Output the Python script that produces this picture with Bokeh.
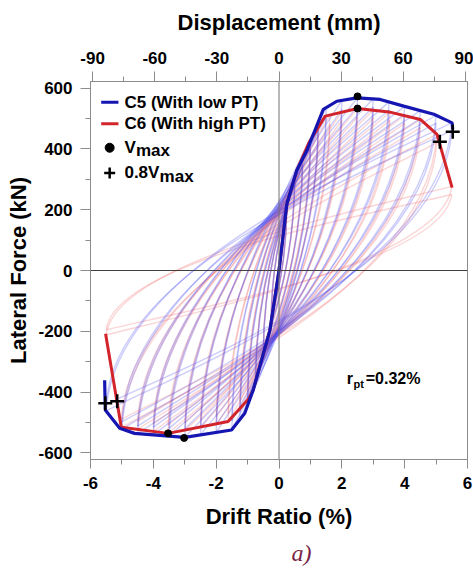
import numpy as np
from bokeh.plotting import figure
from bokeh.models import (ColumnDataSource, LinearAxis, Range1d, FixedTicker, Span, Label, Title)
from bokeh.embed import file_html
from bokeh.resources import INLINE

# ---------------- axis ticks ----------------
drift_ticks = [-6, -4, -2, 0, 2, 4, 6]
drift_minor = [-5, -3, -1, 1, 3, 5]
force_ticks = [-600, -400, -200, 0, 200, 400, 600]
force_minor = [-500, -300, -100, 100, 300, 500]
disp_ticks = [-90, -60, -30, 0, 30, 60, 90]
disp_minor = [-75, -45, -15, 15, 45, 75]

# ---------------- envelopes (drift %, force kN) ----------------
c5_env_drift = [-5.55, -5.53, -5.07, -4.6, -3.0, -1.51, -1.09, -0.82, -0.29, 0.0,
                0.25, 0.56, 0.88, 1.41, 1.84, 2.48, 3.22, 3.97, 4.93, 5.51, 5.53]
c5_env_force = [-361, -459, -519, -536, -549, -525, -470, -393, -197, 0,
                219, 328, 393, 530, 557, 568, 563, 541, 514, 486, 465]
c6_env_drift = [-5.52, -5.02, -3.53, -1.62, -1.25, -0.95, -0.82, -0.29, 0.0,
                0.25, 0.56, 0.95, 1.47, 2.5, 3.5, 4.5, 5.03, 5.51]
c6_env_force = [-208, -516, -536, -497, -455, -420, -393, -197, 0,
                219, 328, 420, 508, 533, 522, 497, 448, 273]

# ---------------- peak markers ----------------
c5_vmax_drift = [2.5, -3.02]
c5_vmax_force = [573, -551]
c6_vmax_drift = [2.5, -3.53]
c6_vmax_force = [533, -536]
c5_v80_drift = [5.53, -5.53]
c5_v80_force = [457, -437]
c6_v80_drift = [5.12, -5.15]
c6_v80_force = [424, -430]

# ---------------- hysteresis cycles (peak drift, peak forces) ----------------
c5_cycle_drift = [0.25, 0.25, 0.5, 0.5, 0.75, 0.75, 1.0, 1.0, 1.25, 1.25, 1.5, 1.5,
                  2.0, 2.0, 2.5, 2.5, 3.0, 3.0, 3.5, 3.5, 4.0, 4.0, 4.5, 4.5,
                  5.0, 5.0, 5.5, 5.5]
c5_cycle_pos_force = [219, 205, 310, 290, 367, 345, 424, 400, 489, 462, 536, 505,
                      560, 530, 568, 540, 565, 538, 555, 528, 540, 515, 526, 500,
                      511, 485, 487, 460]
c5_cycle_neg_force = [-175, -160, -275, -258, -370, -350, -445, -420, -492, -465, -524, -495,
                      -533, -508, -541, -515, -549, -522, -545, -520, -541, -516, -537, -512,
                      -522, -498, -462, -440]
c6_cycle_drift = [0.25, 0.25, 0.5, 0.5, 0.75, 0.75, 1.0, 1.0, 1.25, 1.25, 1.62, 1.62,
                  2.0, 2.0, 2.5, 2.5, 3.0, 3.0, 3.53, 3.53, 4.0, 4.0, 4.5, 4.5,
                  5.02, 5.02, 5.5, 5.5]
c6_cycle_pos_force = [210, 196, 300, 282, 370, 350, 430, 405, 472, 445, 512, 482,
                      521, 494, 533, 505, 528, 501, 521, 494, 510, 484, 497, 470,
                      449, 420, 277, 250]
c6_cycle_neg_force = [-170, -158, -270, -252, -360, -340, -420, -398, -455, -430, -497, -470,
                      -507, -482, -518, -492, -528, -502, -536, -509, -530, -504, -523, -497,
                      -516, -490, -212, -195]

# loop shape (fractions used for Bezier control points)
STEEP_DX, STEEP_DY, APPROACH_DX, APPROACH_DY = 0.05, 0.5, 0.5, 0.15


def loop_source(drift, fpos, fneg):
    d = np.array(drift, float)
    fp = np.array(fpos, float)
    fn = np.array(fneg, float)
    span = fp - fn
    # upward branch: negative peak -> positive peak
    up = dict(x0=-d, y0=fn, x1=d, y1=fp,
              cx0=-d + STEEP_DX * d, cy0=fn + STEEP_DY * span,
              cx1=d - APPROACH_DX * d, cy1=fp - APPROACH_DY * span)
    # downward branch: positive peak -> negative peak
    dn = dict(x0=d, y0=fp, x1=-d, y1=fn,
              cx0=d - STEEP_DX * d, cy0=fp - STEEP_DY * span,
              cx1=-d + APPROACH_DX * d, cy1=fn + APPROACH_DY * span)
    return ColumnDataSource({k: np.concatenate([up[k], dn[k]]) for k in up})


BLUE = "#1515b2"
RED = "#d3242b"
FONT = "Liberation Sans"

p = figure(width=473, height=573, x_range=Range1d(-6, 6), y_range=Range1d(-622, 622),
           output_backend="svg", toolbar_location=None,
           min_border_left=90, min_border_right=6, min_border_top=81, min_border_bottom=114)
p.extra_x_ranges = {"mm": Range1d(-91, 91)}
p.grid.visible = False
p.outline_line_color = "#8c8c8c"
p.background_fill_color = "white"
p.border_fill_color = "white"

# zero lines
p.add_layout(Span(location=0, dimension="height", line_color="#707070", line_width=1))
p.add_layout(Span(location=0, dimension="width", line_color="#404040", line_width=1))

# hysteresis loops
bez_kw = dict(x0="x0", y0="y0", x1="x1", y1="y1", cx0="cx0", cy0="cy0", cx1="cx1", cy1="cy1")
p.bezier(source=loop_source(c6_cycle_drift, c6_cycle_pos_force, c6_cycle_neg_force),
         line_color="#f06a6a", line_alpha=0.28, line_width=1.4, **bez_kw)
p.bezier(source=loop_source(c5_cycle_drift, c5_cycle_pos_force, c5_cycle_neg_force),
         line_color="#4a4af0", line_alpha=0.28, line_width=1.4, **bez_kw)

# envelopes
p.line(c6_env_drift, c6_env_force, line_color=RED, line_width=3)
p.line(c5_env_drift, c5_env_force, line_color=BLUE, line_width=3.2)

# markers
p.scatter(c5_vmax_drift, c5_vmax_force, marker="circle", size=7, color="black")
p.scatter(c6_vmax_drift, c6_vmax_force, marker="circle", size=7, color="black")
p.scatter(c5_v80_drift, c5_v80_force, marker="cross", size=14, line_color="black", line_width=2.5)
p.scatter(c6_v80_drift, c6_v80_force, marker="cross", size=14, line_color="black", line_width=2.5)

# ---------------- axes ----------------
def style_axis(ax, ticks, minor, label, tick_out):
    ax.ticker = FixedTicker(ticks=ticks, minor_ticks=minor)
    ax.major_label_overrides = {t: str(t) for t in ticks}
    ax.axis_label = label
    ax.axis_label_text_font = FONT
    ax.axis_label_text_font_style = "bold"
    ax.axis_label_text_font_size = "22px"
    ax.axis_label_text_color = "black"
    ax.major_label_text_font = FONT
    ax.major_label_text_font_style = "bold"
    ax.major_label_text_font_size = "17px"
    ax.major_label_text_color = "black"
    ax.axis_line_color = "#8c8c8c"
    ax.major_tick_line_color = "#8c8c8c"
    ax.minor_tick_line_color = "#8c8c8c"
    ax.major_tick_in = 0
    ax.minor_tick_in = 0
    ax.major_tick_out = tick_out
    ax.minor_tick_out = 5


style_axis(p.xaxis[0], drift_ticks, drift_minor, "Drift Ratio (%)", 9)
p.xaxis[0].major_label_standoff = 8
p.xaxis[0].axis_label_standoff = 12
style_axis(p.yaxis[0], force_ticks, force_minor, "Lateral Force (kN)", 10)
p.yaxis[0].major_label_standoff = 8
p.yaxis[0].axis_label_standoff = 4

top = LinearAxis(x_range_name="mm")
style_axis(top, disp_ticks, disp_minor, "Displacement (mm)", 10)
top.major_label_standoff = 8
top.axis_label_standoff = 14
p.add_layout(top, "above")

# panel caption
p.add_layout(Title(text="a)", align="left", offset=201, standoff=12,
                   text_font="Liberation Serif", text_font_style="italic",
                   text_font_size="24px", text_color="#7a1f45"), "below")

# ---------------- legend (drawn manually, data coordinates) ----------------
leg_line_x = [-5.66, -5.11]
leg_c5_y, leg_c6_y, leg_vmax_y, leg_v80_y = 554, 483, 404, 321
leg_mark_x, leg_text_x = -5.39, -4.92

p.line(leg_line_x, [leg_c5_y, leg_c5_y], line_color=BLUE, line_width=3)
p.line(leg_line_x, [leg_c6_y, leg_c6_y], line_color=RED, line_width=3)
p.scatter([leg_mark_x], [leg_vmax_y], marker="circle", size=9, color="black")
p.scatter([leg_mark_x], [leg_v80_y], marker="cross", size=11, line_color="black", line_width=2.5)

lab = dict(text_font=FONT, text_font_style="bold", text_font_size="17px",
           text_baseline="middle", text_align="left", text_color="black")
p.add_layout(Label(x=leg_text_x, y=leg_c5_y, text="C5 (With low PT)", **lab))
p.add_layout(Label(x=leg_text_x, y=leg_c6_y, text="C6 (With high PT)", **lab))
p.add_layout(Label(x=leg_text_x, y=leg_vmax_y, text="V", **lab))
p.add_layout(Label(x=-4.555, y=leg_vmax_y - 10, text="max", **lab))
p.add_layout(Label(x=leg_text_x, y=leg_v80_y, text="0.8V", **lab))
p.add_layout(Label(x=-3.80, y=leg_v80_y - 10, text="max", **lab))

# r_pt annotation
rlab = dict(lab)
rlab["text_font_size"] = "16px"
p.add_layout(Label(x=2.16, y=-354, text="r", **rlab))
sub = dict(lab)
sub["text_font_size"] = "11px"
p.add_layout(Label(x=2.37, y=-374, text="pt", **sub))
p.add_layout(Label(x=2.76, y=-354, text="=0.32%", **rlab))

open("out.html", "w").write(file_html(p, INLINE))
